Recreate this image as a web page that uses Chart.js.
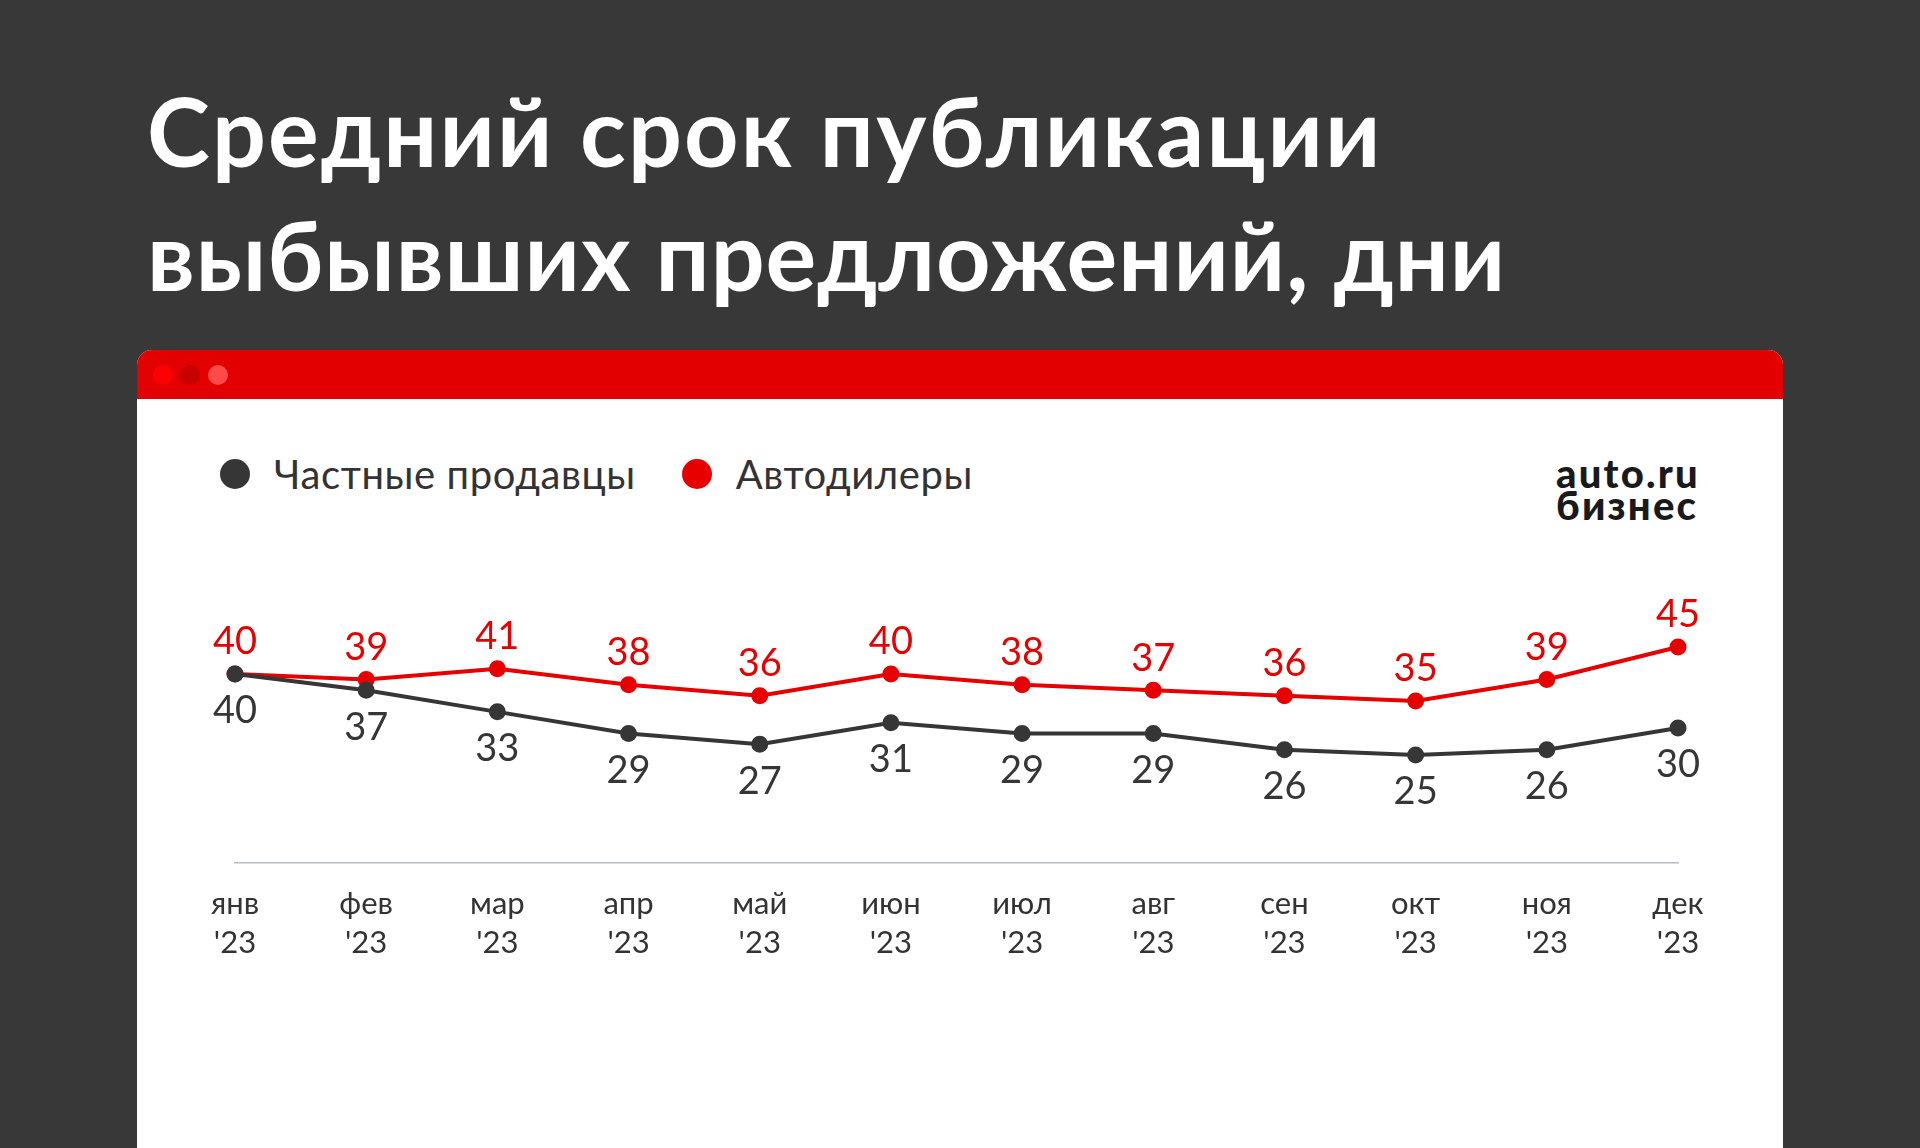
<!DOCTYPE html>
<html lang="ru">
<head>
<meta charset="utf-8">
<script src="https://cdn.jsdelivr.net/npm/chart.js@4.4.1/dist/chart.umd.min.js"></script>
<style>
  html, body { margin: 0; padding: 0; }
  body { width: 1920px; height: 1148px; background: #383838; position: relative; overflow: hidden; font-family: Lato, sans-serif; }
  .title { position: absolute; left: 147px; top: 68px; color: #fff; font-family: Lato, sans-serif; font-weight: 700; font-size: 95px; line-height: 124px; }
  .title .l1 { letter-spacing: 2.2px; }
  .title .l2 { letter-spacing: 1px; }
  .card { position: absolute; left: 137px; top: 350px; width: 1646px; height: 820px; background: #fff; border-radius: 15px 15px 0 0; overflow: hidden; }
  .bar { height: 49px; background: #e30000; position: relative; }
  .dot { position: absolute; top: 15px; width: 20px; height: 20px; border-radius: 50%; }
  .legend { position: absolute; left: 220px; top: 450px; display: flex; align-items: center; font-size: 40px; color: #333; letter-spacing: 0.6px; }
  .legend span.m { width: 30px; height: 30px; border-radius: 50%; display: inline-block; margin-right: 24px; }
  .legend .item { display: flex; align-items: center; margin-right: 46px; }
  .logo { position: absolute; left: 1556px; top: 457px; font-weight: 900; font-size: 40px; line-height: 32px; color: #1a1a1a; letter-spacing: 2.2px; }
  #chart { position: absolute; left: 0; top: 0; }
</style>
</head>
<body>
<div class="title"><span class="l1">Средний срок публикации</span><br><span class="l2">выбывших предложений, дни</span></div>
<div class="card">
  <div class="bar">
    <div class="dot" style="left:16px;background:#ff0000"></div>
    <div class="dot" style="left:43px;background:#c80000"></div>
    <div class="dot" style="left:71px;background:#ff4a4a"></div>
  </div>
</div>
<div class="legend" id="legend"></div>
<div class="logo">auto.ru<br>бизнес</div>
<canvas id="chart" width="1920" height="1148"></canvas>
<script>
const months = ['янв', 'фев', 'мар', 'апр', 'май', 'июн', 'июл', 'авг', 'сен', 'окт', 'ноя', 'дек'];
const yearLabel = "'23";
const privateSellers = [40, 37, 33, 29, 27, 31, 29, 29, 26, 25, 26, 30];
const dealers = [40, 39, 41, 38, 36, 40, 38, 37, 36, 35, 39, 45];

const darkColor = '#363636';
const redColor = '#e60000';

const labels = months.map(m => [m, yearLabel]);

// values above red points, below dark points
const valueLabels = {
  id: 'valueLabels',
  afterDatasetsDraw(chart) {
    const ctx = chart.ctx;
    ctx.save();
    ctx.font = '400 38px Lato, sans-serif';
    ctx.textAlign = 'center';
    ctx.textBaseline = 'middle';
    chart.data.datasets.forEach((ds, i) => {
      const meta = chart.getDatasetMeta(i);
      ctx.fillStyle = ds.borderColor;
      meta.data.forEach((pt, j) => {
        const dy = ds.labelPos === 'top' ? -32 : 37;
        ctx.fillText(ds.data[j], pt.x, pt.y + dy);
      });
    });
    ctx.restore();
  }
};

const chart = new Chart(document.getElementById('chart'), {
  type: 'line',
  data: {
    labels: labels,
    datasets: [{
      label: 'Частные продавцы',
      data: privateSellers,
      borderColor: darkColor,
      backgroundColor: darkColor,
      borderWidth: 4,
      pointRadius: 6.5,
      pointHoverRadius: 6.5,
      labelPos: 'bottom'
    }, {
      label: 'Автодилеры',
      data: dealers,
      borderColor: redColor,
      backgroundColor: redColor,
      borderWidth: 4,
      pointRadius: 6.5,
      pointHoverRadius: 6.5,
      labelPos: 'top'
    }]
  },
  options: {
    responsive: false,
    animation: false,
    devicePixelRatio: 1,
    layout: { padding: { left: 235, right: 242, top: 566, bottom: 164 } },
    plugins: { legend: { display: false }, tooltip: { enabled: false } },
    scales: {
      x: {
        offset: false,
        grid: { display: false, drawTicks: false },
        border: { display: true, color: '#b4bcc6', width: 1.5 },
        ticks: {
          color: '#333',
          font: { family: 'Lato, sans-serif', size: 31, lineHeight: 1.24 },
          padding: 22,
          maxRotation: 0,
          autoSkip: false
        }
      },
      y: { display: false, min: 5, max: 60 }
    }
  },
  plugins: [valueLabels]
});

// html legend from the datasets
const legendEl = document.getElementById('legend');
chart.data.datasets.forEach(ds => {
  const item = document.createElement('div');
  item.className = 'item';
  item.innerHTML = '<span class="m" style="background:' + ds.borderColor + '"></span>' + ds.label;
  legendEl.appendChild(item);
});
</script>
</body>
</html>
